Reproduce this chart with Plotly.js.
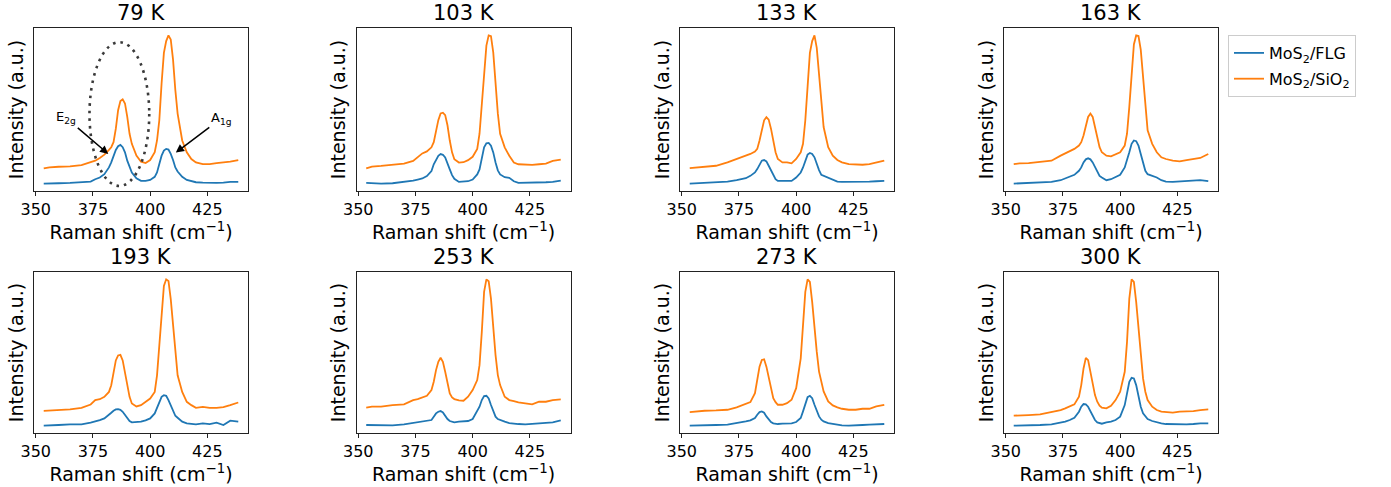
<!DOCTYPE html>
<html>
<head>
<meta charset="utf-8">
<script src="https://cdn.plot.ly/plotly-3.0.1.min.js"></script>
<style>html,body{margin:0;padding:0;background:#fff;}#chart{width:1391px;height:487px;}</style>
</head>
<body>
<div id="chart"></div>
<script>
// Raman shift axis (cm^-1)
const ramanShift = [353.5,356,360,365,370,374,376,378,380,382,383,384,385,386,387,388,389,390,391,392,394,396,398,400,402,403,404,405,406,407,408,409,410,411,412,414,416,418,420,423,426,429,432,435,438.5];

const temperatures = ["79 K","103 K","133 K","163 K","193 K","253 K","273 K","300 K"];
const seriesNames = ["MoS<sub>2</sub>/FLG","MoS<sub>2</sub>/SiO<sub>2</sub>"];
const xTicks = [350,375,400,425];

// Intensity (a.u.) — MoS2 on few-layer graphene
const flg79  = [52,53,53,54,56,58,65,70,80,100,115,135,152,163,167,160,145,120,100,85,68,60,60,63,72,85,110,135,150,155,153,140,122,100,88,72,63,59,56,55,54,54,55,57,57];
const flg103 = [55,54,53,54,58,62,65,68,75,90,110,125,135,140,138,130,115,95,78,67,58,58,60,65,80,95,125,160,172,173,165,145,115,92,80,72,70,60,55,55,57,56,57,58,62];
const flg133 = [112,113,114,115,118,122,124,128,135,145,155,170,180,182,178,165,150,135,125,120,120,120,120,130,145,160,180,198,203,200,190,170,152,138,135,130,122,118,117,117,116,116,118,119,120];
const flg163 = [112,113,114,115,117,122,128,133,138,150,160,175,184,187,184,175,160,145,135,130,122,125,132,138,160,180,205,230,240,238,225,200,170,150,140,135,130,122,118,117,118,118,120,122,119];
const flg193 = [58,58,60,62,62,67,70,75,80,90,97,103,107,108,106,100,90,80,72,68,68,70,74,80,95,112,132,145,150,148,135,118,100,88,82,70,65,64,62,65,63,67,60,73,70];
const flg253 = [120,120,118,119,122,126,127,130,132,135,145,155,160,162,158,148,138,132,130,128,130,132,132,138,160,175,195,207,208,200,180,160,145,138,135,130,126,124,123,122,124,125,126,128,134];
const flg273 = [117,117,118,119,120,124,127,130,133,140,150,158,160,156,145,135,128,124,122,122,123,123,124,128,140,160,185,203,207,200,180,160,145,135,130,125,122,120,118,117,117,119,120,121,122];
const flg300 = [118,118,119,120,122,127,130,135,142,160,175,183,182,175,160,145,135,128,125,124,128,130,135,145,180,210,250,262,260,240,205,175,155,145,138,132,128,125,123,122,123,122,123,125,125];

// Intensity (a.u.) — MoS2 on SiO2
const sio79  = [97,100,102,103,107,115,120,128,138,152,160,175,215,270,297,302,290,250,200,170,135,117,113,122,145,180,240,350,440,475,492,480,420,330,260,180,145,125,115,110,110,113,114,117,122];
const sio103 = [98,103,105,108,112,120,130,142,148,160,175,205,240,260,262,255,225,180,145,125,115,116,122,132,155,200,280,370,460,490,488,440,350,260,200,160,135,115,110,108,108,110,112,120,124];
const sio133 = [158,160,162,165,175,185,188,195,200,207,215,240,275,300,309,302,275,235,205,185,175,175,172,185,205,230,300,400,500,535,552,515,430,350,280,220,195,182,175,170,168,168,170,174,180];
const sio163 = [170,172,173,177,180,195,202,207,215,225,235,255,285,310,320,310,280,245,220,205,195,193,200,205,225,260,340,440,525,552,550,510,430,340,270,230,205,190,185,180,178,182,184,188,200];
const sio193 = [103,104,105,107,112,122,135,138,145,160,180,220,255,270,272,255,220,180,145,125,116,120,130,140,160,210,300,400,480,500,495,440,360,280,210,160,130,120,112,115,112,112,114,120,128];
const sio253 = [172,175,175,180,182,195,198,202,208,225,250,285,310,322,310,280,245,215,203,198,194,193,205,225,255,300,400,520,558,552,500,410,330,270,240,205,195,192,188,185,182,190,190,195,197];
const sio273 = [158,160,162,163,165,172,178,182,188,215,255,295,315,317,295,260,225,200,188,180,180,185,195,230,320,410,520,558,550,490,410,340,280,250,220,190,178,172,168,165,165,168,168,175,180];
const sio300 = [148,148,150,152,158,165,170,175,182,205,240,290,322,315,280,240,210,190,178,172,170,178,195,220,280,370,500,558,550,490,410,330,260,220,195,175,165,160,158,157,160,160,162,165,167];

const flgSeries = [flg79,flg103,flg133,flg163,flg193,flg253,flg273,flg300];
const sioSeries = [sio79,sio103,sio133,sio163,sio193,sio253,sio273,sio300];

// Annotation data for the 79 K panel (peak labels, highlighted region)
const peakLabels = ["E<sub>2g</sub>","A<sub>1g</sub>"];
const peakArrowX = [381.7, 411.2];
const peakArrowY = [140, 144];
const ellipseX = [373.5, 399.6];
const ellipseY = [45, 472];

// ---------------- layout ----------------
const W = 1391, H = 487;
const colLeft = [34, 356.5, 680, 1004], panelW = 214;
const rowTop = [28, 272], rowBottom = [191, 433];
const blue = '#1f77b4', orange = '#ff7f0e';
const font = 'DejaVu Sans, sans-serif';

const data = [];
const layout = {
  width: W, height: H,
  margin: {l:0, r:0, t:0, b:0},
  paper_bgcolor: '#fff', plot_bgcolor: '#fff',
  font: {family: font, color: '#000'},
  showlegend: true,
  legend: {x: 1228/W, y: 1 - 35/H, xanchor: 'left', yanchor: 'top',
           bordercolor: '#cccccc', borderwidth: 1, bgcolor: '#fff',
           font: {size: 16, family: font}, tracegroupgap: 2},
  annotations: [], shapes: []
};

const xmin = Math.min(...ramanShift), xmax = Math.max(...ramanShift);
const xpad = 0.05 * (xmax - xmin);

for (let i = 0; i < 8; i++) {
  const r = Math.floor(i / 4), c = i % 4;
  const ax = i === 0 ? '' : String(i + 1);
  const xa = 'x' + ax, ya = 'y' + ax;
  const f = flgSeries[i], s = sioSeries[i];
  data.push({x: ramanShift, y: f, xaxis: xa, yaxis: ya, type: 'scatter', mode: 'lines',
             line: {color: blue, width: 1.8}, name: seriesNames[0], showlegend: i === 0, legendgroup: 'a'});
  data.push({x: ramanShift, y: s, xaxis: xa, yaxis: ya, type: 'scatter', mode: 'lines',
             line: {color: orange, width: 1.8}, name: seriesNames[1], showlegend: i === 0, legendgroup: 'b'});
  const lo = Math.min(...f, ...s), hi = Math.max(...f, ...s);
  const ypad = 0.05 * (hi - lo);
  const xd = [colLeft[c] / W, (colLeft[c] + panelW) / W];
  const yd = [1 - rowBottom[r] / H, 1 - rowTop[r] / H];
  layout['xaxis' + ax] = {
    domain: xd, anchor: ya, range: [xmin - xpad, xmax + xpad],
    tickmode: 'array', tickvals: xTicks, ticktext: xTicks.map(String),
    ticks: 'outside', ticklen: 4, tickwidth: 1, tickcolor: '#222',
    showline: true, mirror: true, linecolor: '#222', linewidth: 1,
    showgrid: false, zeroline: false,
    tickfont: {size: 16, family: font, color: '#000'},
    title: {text: 'Raman shift (cm<sup>−1</sup>)', font: {size: 19, family: font, color: '#000'}, standoff: 3}
  };
  layout['yaxis' + ax] = {
    domain: yd, anchor: xa, range: [lo - ypad, hi + ypad],
    showticklabels: false, ticks: '',
    showline: true, mirror: true, linecolor: '#222', linewidth: 1,
    showgrid: false, zeroline: false,
    title: {text: 'Intensity (a.u.)', font: {size: 19, family: font, color: '#000'}, standoff: 4}
  };
  layout.annotations.push({
    text: temperatures[i], xref: 'paper', yref: 'paper',
    x: (xd[0] + xd[1]) / 2, y: yd[1], xanchor: 'center', yanchor: 'bottom', yshift: 1,
    showarrow: false, font: {size: 21, family: font, color: '#000'}
  });
}

// 79 K annotations
const axOff = [-42, 45], ayOff = [-36, -34];
for (let k = 0; k < 2; k++) {
  layout.annotations.push({
    text: peakLabels[k], xref: 'x', yref: 'y', x: peakArrowX[k], y: peakArrowY[k],
    ax: axOff[k], ay: ayOff[k], showarrow: true, arrowhead: 2, arrowsize: 1.1, arrowwidth: 1.5,
    arrowcolor: '#000', font: {size: 13, family: font, color: '#000'}
  });
}
layout.shapes.push({
  type: 'circle', xref: 'x', yref: 'y',
  x0: ellipseX[0], x1: ellipseX[1], y0: ellipseY[0], y1: ellipseY[1],
  line: {color: '#3a3a3a', width: 2.6, dash: '2.6px,5px'}
});

Plotly.newPlot('chart', data, layout, {staticPlot: true, displayModeBar: false});
</script>
</body>
</html>
